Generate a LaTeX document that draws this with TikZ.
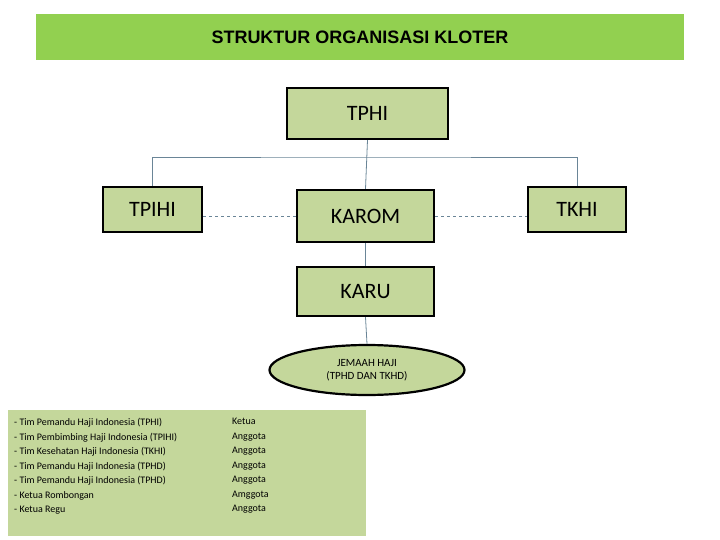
\documentclass[tikz,border=0pt]{standalone}
\usepackage{fontspec}
\setmainfont{Carlito}
\newfontfamily\arialf{Liberation Sans}
\usetikzlibrary{shapes.geometric}
\definecolor{titleg}{HTML}{92D050}
\definecolor{boxg}{HTML}{C4D79B}
\definecolor{lineb}{HTML}{6A8597}
\begin{document}
\begin{tikzpicture}[x=1pt,y=-1pt,
  box/.style={draw=black,line width=2.2pt,fill=boxg,inner sep=0pt,font=\fontsize{22}{24}\selectfont},
  conn/.style={draw=lineb,line width=0.8pt},
  dconn/.style={conn,dashed}]
\useasboundingbox (0,0) rectangle (720,540);
\node[fill=titleg,minimum width=648pt,minimum height=46pt,inner sep=0pt,font=\arialf\bfseries\fontsize{18}{20}\selectfont] (title) at (360,37) {STRUKTUR ORGANISASI KLOTER};
\node[box,minimum width=161pt,minimum height=51pt] (tphi) at (367.5,113.5) {TPHI};
\node[box,minimum width=99pt,minimum height=45pt] (tpihi) at (152.5,209.5) {TPIHI};
\node[box,minimum width=137pt,minimum height=52pt] (karom) at (365.5,216) {KAROM};
\node[box,minimum width=98pt,minimum height=45pt] (tkhi) at (577,209.5) {TKHI};
\node[box,minimum width=137pt,minimum height=49pt] (karu) at (365.5,291.5) {KARU};
\node[ellipse,draw=black,line width=2.2pt,fill=boxg,minimum width=195pt,minimum height=50pt,inner sep=0pt,align=center,font=\fontsize{11}{13}\selectfont] (jem) at (367,370) {JEMAAH HAJI\\(TPHD DAN TKHD)};
\node[fill=boxg,minimum width=358pt,minimum height=126pt,inner sep=0pt] (list) at (187,473) {};
\node[anchor=north west,align=left,inner sep=0pt,font=\fontsize{10}{14.5}\selectfont] (l1) at (14,418) {- Tim Pemandu Haji Indonesia (TPHI)\\- Tim Pembimbing Haji Indonesia (TPIHI)\\- Tim Kesehatan Haji Indonesia (TKHI)\\- Tim Pemandu Haji Indonesia (TPHD)\\- Tim Pemandu Haji Indonesia (TPHD)\\- Ketua Rombongan\\- Ketua Regu};
\node[anchor=north west,align=left,inner sep=0pt,font=\fontsize{10}{14.5}\selectfont] (l2) at (232,418) {Ketua\\Anggota\\Anggota\\Anggota\\Anggota\\Amggota\\Anggota};
\coordinate (hm) at (367,157);
\draw[conn] (tphi.south) -- (karom.north);
\draw[conn] (tpihi.north) |- (hm) -| (tkhi.north);
\draw[dconn] (tpihi.east |- karom.west) -- (karom.west);
\draw[dconn] (karom.east) -- (tkhi.west |- karom.east);
\draw[conn] (karom.south) -- (karu.north);
\draw[conn] (karu.south) -- (jem.north);
\end{tikzpicture}
\end{document}
